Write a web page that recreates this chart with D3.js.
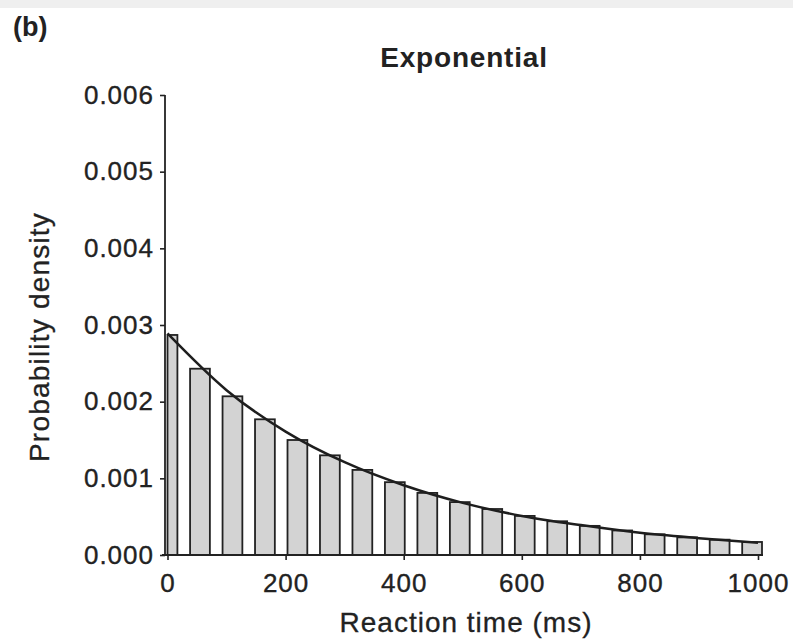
<!DOCTYPE html>
<html>
<head>
<meta charset="utf-8">
<script src="https://cdn.jsdelivr.net/npm/d3@7"></script>
<style>
  html, body { margin: 0; padding: 0; background: #fff; }
  svg { display: block; }
  text { font-family: "Liberation Sans", Arial, Helvetica, sans-serif; fill: #222; }
</style>
</head>
<body>
<svg id="chart" width="793" height="644"></svg>
<script>
// ---- data ----
const panelLabel = "(b)";
const chartTitle = "Exponential";
const xTitle = "Reaction time (ms)";
const yTitle = "Probability density";

// histogram bin centres (ms) and heights (probability density)
const binCenters = [0, 55, 110, 165, 220, 275, 330, 385, 440, 495, 550, 605, 660, 715, 770, 825, 880, 935, 990];
const binDensity = [0.00287, 0.00243, 0.00207, 0.00177, 0.00150, 0.00130, 0.00111, 0.00095, 0.00081, 0.00069,
                    0.00060, 0.00051, 0.00044, 0.00038, 0.00032, 0.00027, 0.00023, 0.00020, 0.00017];

// fitted density curve, read at 100 ms steps
const curveX = [0, 100, 200, 300, 400, 500, 600, 700, 800, 900, 1000];
const curveY = [0.00289, 0.00215, 0.00161, 0.00121, 0.00091, 0.00068, 0.00051, 0.00039, 0.00029, 0.00022, 0.00016];

const xTicks = [0, 200, 400, 600, 800, 1000];
const yTicks = [0, 0.001, 0.002, 0.003, 0.004, 0.005, 0.006];

// ---- drawing ----
const svg = d3.select("#chart");

// light band at top of the scan
svg.append("rect").attr("x", 0).attr("y", 0).attr("width", 793).attr("height", 8).attr("fill", "#efefef");

const x = d3.scaleLinear().domain([0, 1000]).range([167.5, 758]);
const y = d3.scaleLinear().domain([0, 0.006]).range([555, 95]);

const step = x(binCenters[1]) - x(binCenters[0]);
const barW = step * 0.61;

const bars = svg.append("g");
binCenters.forEach((c, i) => {
  const cx = x(c);
  const left = Math.max(cx - barW / 2, x(0));
  const right = cx + barW / 2;
  bars.append("rect")
    .attr("x", left)
    .attr("y", y(binDensity[i]))
    .attr("width", right - left)
    .attr("height", y(0) - y(binDensity[i]))
    .attr("fill", "#d3d3d3")
    .attr("stroke", "#222")
    .attr("stroke-width", 1.8);
});

// fitted curve
const line = d3.line()
  .x((d, i) => x(curveX[i]))
  .y(d => y(d))
  .curve(d3.curveMonotoneX);
svg.append("path")
  .datum(curveY)
  .attr("d", line)
  .attr("fill", "none")
  .attr("stroke", "#1e1e1e")
  .attr("stroke-width", 2.5);

const labelStyle = sel => sel
  .attr("font-size", 26).attr("letter-spacing", "1px")
  .attr("font-family", "'Liberation Sans', Arial, sans-serif")
  .attr("fill", "#222").attr("stroke", "#222").attr("stroke-width", 0.35);

// y axis
const yAxis = svg.append("g")
  .attr("transform", "translate(165,0)")
  .call(d3.axisLeft(y).tickValues(yTicks).tickFormat(d3.format(".3f")).tickSize(5).tickPadding(6).tickSizeOuter(0));
yAxis.select(".domain").remove();
yAxis.append("line").attr("x1", 0).attr("x2", 0).attr("y1", 95).attr("y2", 555)
  .attr("stroke", "#222").attr("stroke-width", 1.8);
yAxis.selectAll(".tick line").attr("stroke", "#222").attr("stroke-width", 1.6);
yAxis.selectAll(".tick text").call(labelStyle);

// x axis
const xAxis = svg.append("g")
  .attr("transform", "translate(0,555)")
  .call(d3.axisBottom(x).tickValues(xTicks).tickFormat(d3.format("d")).tickSize(5).tickPadding(14).tickSizeOuter(0));
xAxis.select(".domain").remove();
xAxis.append("line").attr("x1", 162).attr("x2", 763).attr("y1", 0).attr("y2", 0)
  .attr("stroke", "#222").attr("stroke-width", 1.8);
xAxis.selectAll(".tick line").attr("stroke", "#222").attr("stroke-width", 1.6);
xAxis.selectAll(".tick text").call(labelStyle);

// titles
svg.append("text").attr("x", 464).attr("y", 67).attr("text-anchor", "middle")
  .attr("font-size", 28).attr("font-weight", "bold").attr("letter-spacing", "0.8px").text(chartTitle);
svg.append("text").attr("x", 13).attr("y", 36)
  .attr("font-size", 27).attr("font-weight", "bold").text(panelLabel);
svg.append("text").attr("x", 466).attr("y", 632).attr("text-anchor", "middle")
  .attr("font-size", 28).attr("letter-spacing", "1px")
  .attr("stroke", "#222").attr("stroke-width", 0.3).text(xTitle);
svg.append("text").attr("transform", "translate(49,337) rotate(-90)").attr("text-anchor", "middle")
  .attr("font-size", 28).attr("letter-spacing", "1.2px")
  .attr("stroke", "#222").attr("stroke-width", 0.3).text(yTitle);
</script>
</body>
</html>
